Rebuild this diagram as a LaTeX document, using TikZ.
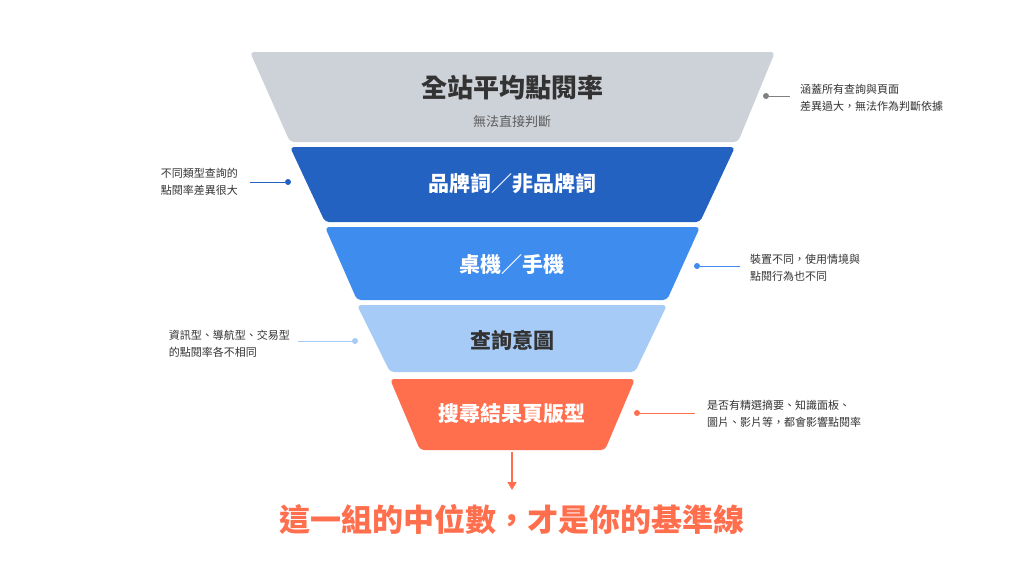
\documentclass[tikz,border=0pt]{standalone}
\usepackage{fontspec}
\setmainfont{Noto Sans CJK TC}
\newfontfamily\cjkb{Noto Sans CJK TC}[BoldFont={* Bold}]
\usetikzlibrary{arrows.meta}
\definecolor{cg}{HTML}{CDD1D8}
\definecolor{cdb}{HTML}{2462C2}
\definecolor{cmb}{HTML}{3F8CEF}
\definecolor{clb}{HTML}{A6CBF6}
\definecolor{cor}{HTML}{FF6F4E}
\definecolor{ctx}{HTML}{333333}
\begin{document}
\begin{tikzpicture}[x=1pt,y=-1pt,
  lvl/.style={rounded corners=4pt},
  ann/.style={font=\fontsize{11}{17}\selectfont,text=ctx,align=left,inner sep=0},
  dot/.style={circle,inner sep=0,minimum size=6pt},
  lab/.style={font=\fontsize{21}{24}\selectfont\bfseries,text=white}]
\fill[white] (0,0) rectangle (1024,576);
\useasboundingbox (0,0) rectangle (1024,576);
\fill[cg,lvl] (250,52) -- (775,52) -- (738,142) -- (290,142) -- cycle;
\fill[cdb,lvl] (290,147) -- (735,147) -- (700,222) -- (325,222) -- cycle;
\fill[cmb,lvl] (325,227) -- (700,227) -- (667,300) -- (357,300) -- cycle;
\fill[clb,lvl] (357,305) -- (667,305) -- (635,372) -- (390,372) -- cycle;
\fill[cor,lvl] (390,379) -- (635,379) -- (605,450) -- (420,450) -- cycle;
\node[font=\fontsize{26}{28}\selectfont\bfseries,text=ctx] (t1) at (512,88) {全站平均點閱率};
\node[font=\fontsize{13}{15}\selectfont,text=ctx!80] (s1) at (512,122) {無法直接判斷};
\node[lab] (t2) at (512,184) {品牌詞／非品牌詞};
\node[lab] (t3) at (512,264) {桌機／手機};
\node[lab,text=ctx] (t4) at (512,340) {查詢意圖};
\node[lab] (t5) at (512,414) {搜尋結果頁版型};
\node[dot,fill=gray] (d1) at (766,96) {};
\coordinate (e1) at (790,96);
\draw[gray] (d1) -- (e1);
\node[ann,anchor=west] (a1) at (800,98) {涵蓋所有查詢與頁面\\差異過大，無法作為判斷依據};
\node[dot,fill=cdb] (d2) at (288,182) {};
\coordinate (e2) at (250,182);
\draw[cdb] (d2) -- (e2);
\node[ann,anchor=east] (a2) at (238,182) {不同類型查詢的\\點閱率差異很大};
\node[dot,fill=cmb] (d3) at (697,266) {};
\coordinate (e3) at (740,266);
\draw[cmb] (d3) -- (e3);
\node[ann,anchor=west] (a3) at (750,268) {裝置不同，使用情境與\\點閱行為也不同};
\node[dot,fill=clb] (d4) at (355,341) {};
\coordinate (e4) at (298,341);
\draw[clb] (d4) -- (e4);
\node[ann,anchor=east] (a4) at (290,344) {資訊型、導航型、交易型\\的點閱率各不相同};
\node[dot,fill=cor] (d5) at (637,413) {};
\coordinate (e5) at (695,413);
\draw[cor] (d5) -- (e5);
\node[ann,anchor=west] (a5) at (707,414) {是否有精選摘要、知識面板、\\圖片、影片等，都會影響點閱率};
\coordinate (ar) at (512,452);
\node[font=\fontsize{31}{34}\selectfont\bfseries,text=cor] (fin) at (512,519) {這一組的中位數，才是你的基準線};
\draw[cor,line width=1.6pt,-{Triangle[length=8pt,width=9pt]}] (ar) -- (512,490);
\end{tikzpicture}
\end{document}
